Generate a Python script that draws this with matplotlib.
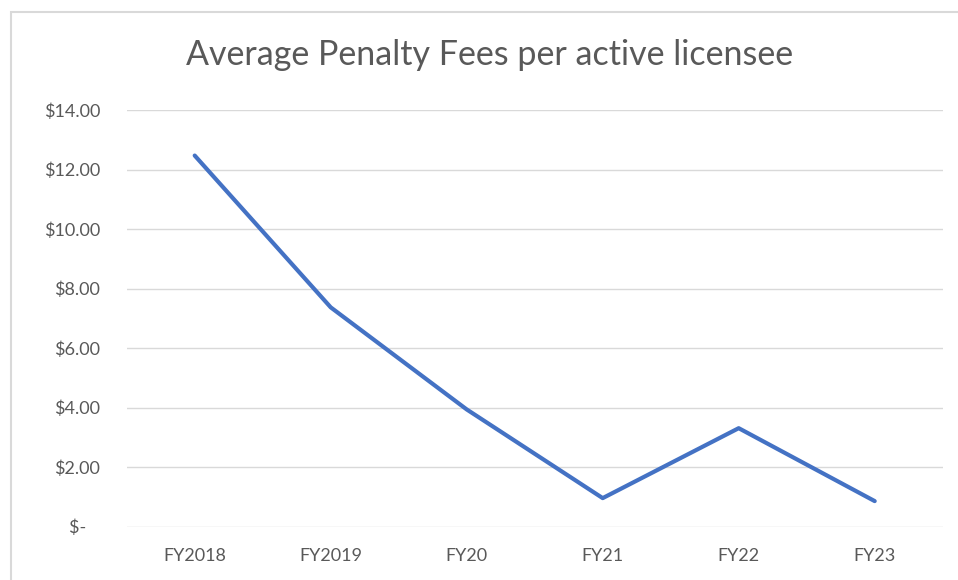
import matplotlib
matplotlib.use("Agg")
import matplotlib.pyplot as plt
from matplotlib.patches import Rectangle

categories = ["FY2018", "FY2019", "FY20", "FY21", "FY22", "FY23"]
values = [12.47, 7.37, 3.94, 0.96, 3.31, 0.86]
y_ticks = [0, 2, 4, 6, 8, 10, 12, 14]
y_tick_labels = ["$-   ", "$2.00", "$4.00", "$6.00", "$8.00", "$10.00", "$12.00", "$14.00"]
title = "Average Penalty Fees per active licensee"

plt.rcParams['font.family'] = ['Lato', 'DejaVu Sans']
W, H = 958, 580
fig = plt.figure(figsize=(W / 100, H / 100), dpi=100)
fig.patch.set_facecolor("white")

ax = fig.add_axes([126.7 / W, 1 - 526.7 / H, (942.7 - 126.7) / W, (526.7 - 110) / H])
x = list(range(len(categories)))
ax.plot(x, values, color="#4472C4", linewidth=3.0, solid_capstyle="round", solid_joinstyle="round", zorder=3)

ax.set_xlim(-0.5, len(categories) - 0.5)
ax.set_ylim(0, 14)
ax.set_yticks(y_ticks)
ax.set_yticklabels(y_tick_labels)
ax.set_xticks(x)
ax.set_xticklabels(categories)
ax.grid(axis="y", color="#d9d9d9", linewidth=1.0, zorder=0)
ax.grid(axis="x", visible=False)
for s in ax.spines.values():
    s.set_visible(False)
ax.tick_params(axis="both", length=0, colors="#595959", labelsize=13)
ax.tick_params(axis="y", pad=19)
ax.tick_params(axis="x", pad=15)

fig.text(490 / W, 1 - 55 / H, title, ha="center", va="center", fontsize=24.5, color="#595959")

fig.patches.append(Rectangle((11 / W, -0.1), 1.1, 1 - 12 / H + 0.1, transform=fig.transFigure,
                             fill=False, edgecolor="#d9d9d9", linewidth=1.5))

fig.savefig("out.png", dpi=100)
